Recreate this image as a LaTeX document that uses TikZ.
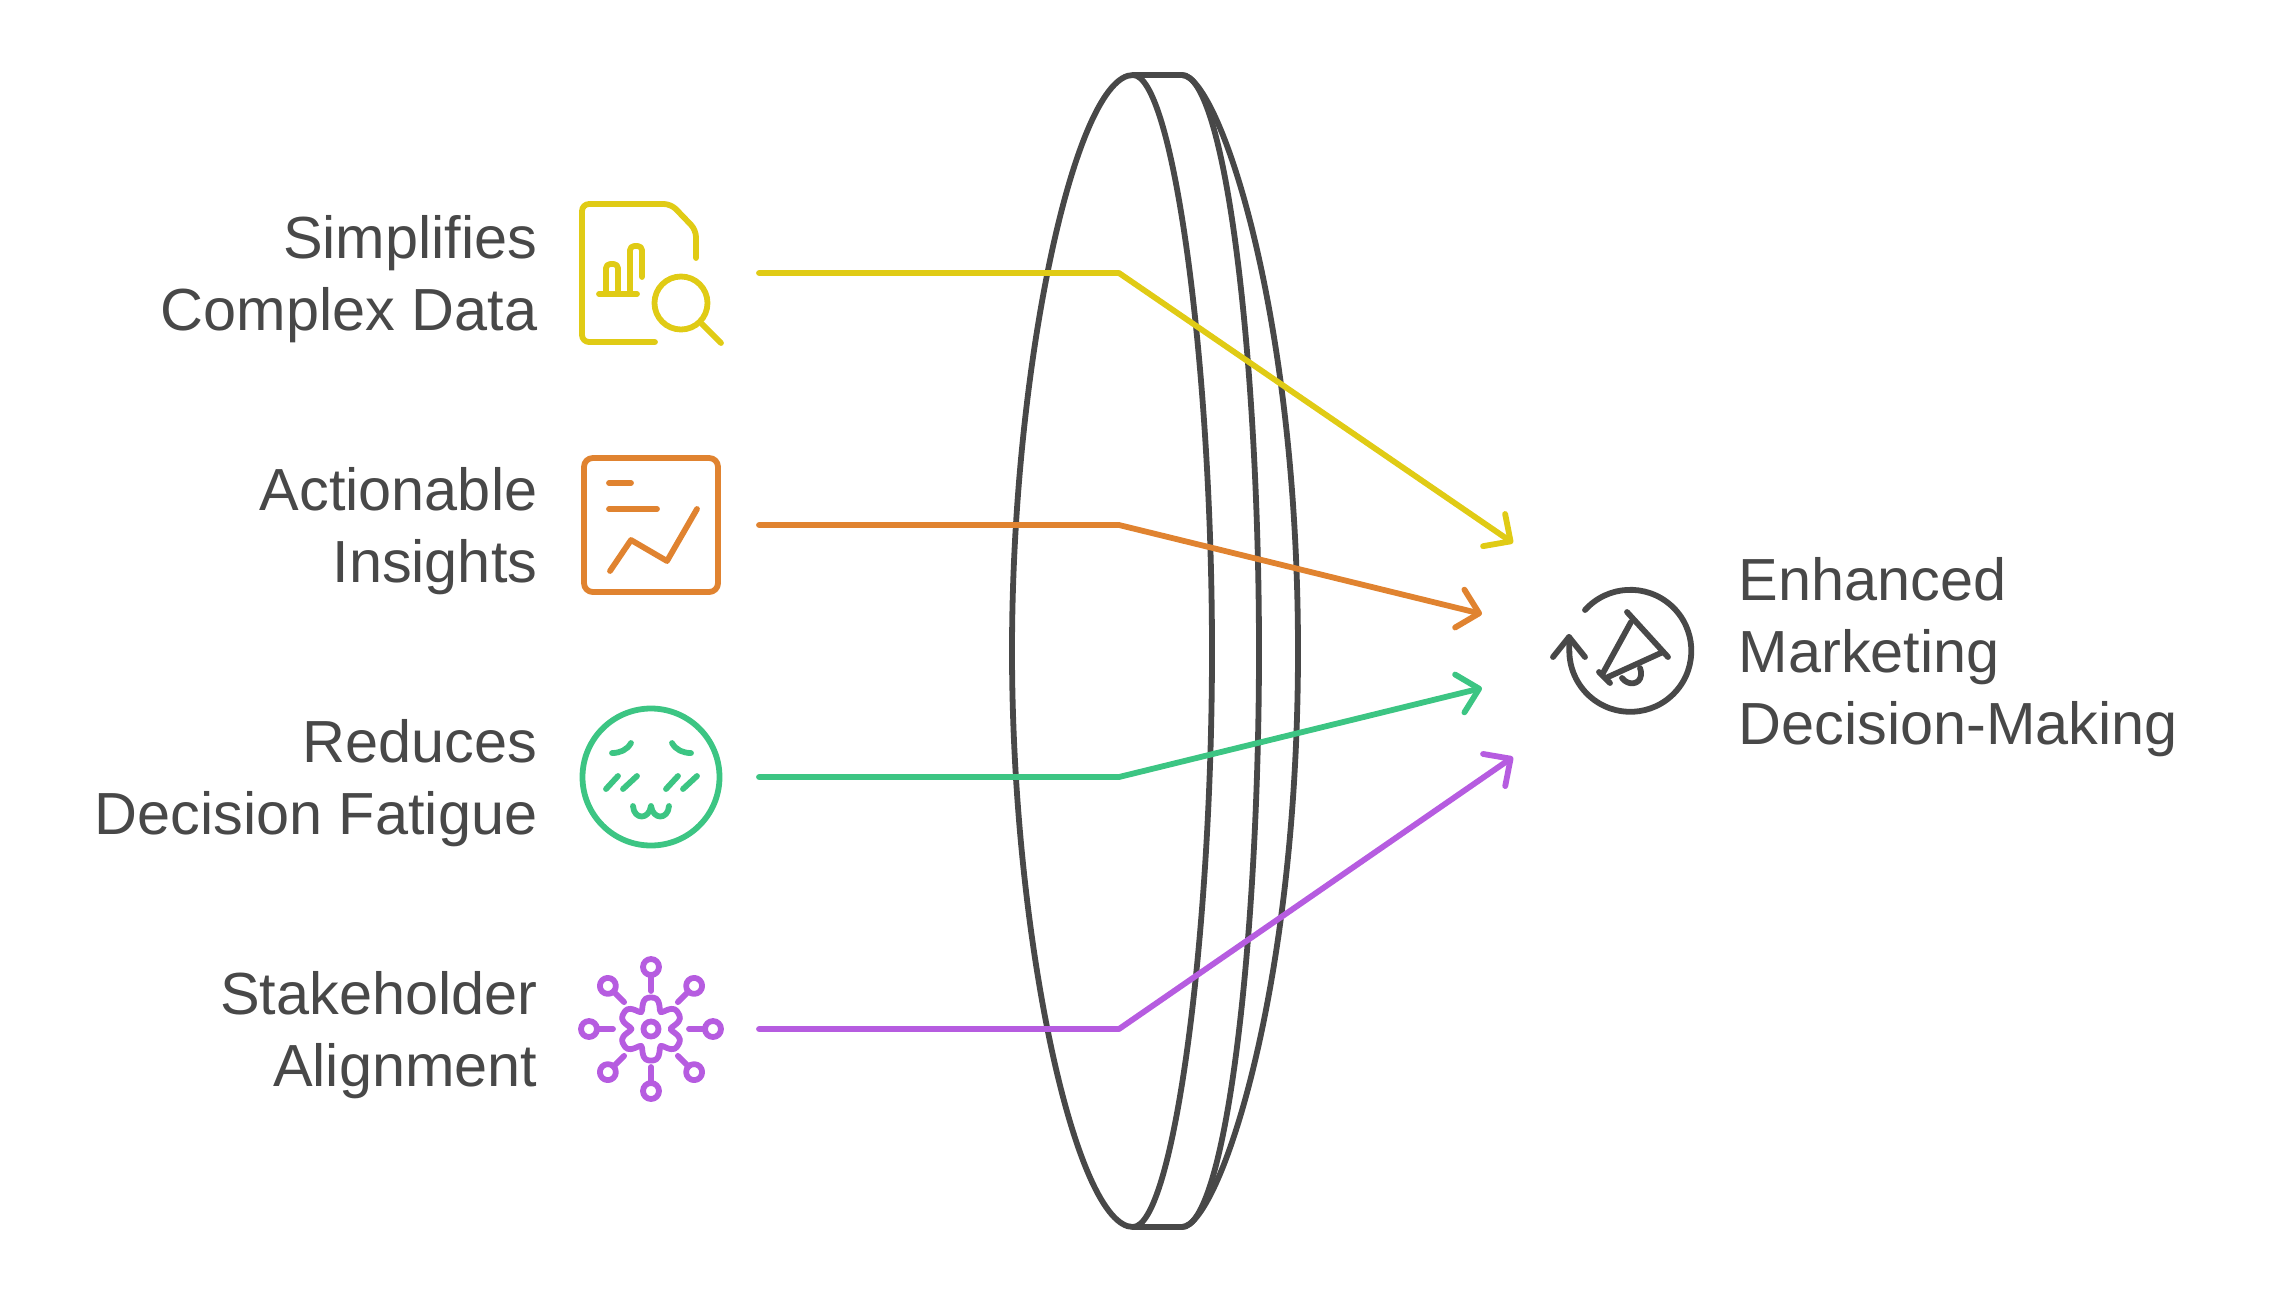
\documentclass[tikz,border=0pt]{standalone}
\usepackage{fontspec}
\setmainfont{Liberation Sans}
\usetikzlibrary{arrows.meta}
\definecolor{inkgray}{HTML}{484848}
\definecolor{dataYellow}{HTML}{E0CB15}
\definecolor{insightOrange}{HTML}{E08330}
\definecolor{fatigueGreen}{HTML}{3CC583}
\definecolor{alignPurple}{HTML}{B65CE0}
\tikzset{
  label text/.style={text=inkgray, inner sep=0pt, font=\fontsize{16.9}{20.5}\selectfont},
  lens line/.style={draw=inkgray, line width=0.58mm},
  icon line/.style={line width=0.58mm, line cap=round, line join=round},
  flow/.style={line width=0.58mm, line cap=round, line join=round,
    arrows={-Straight Barb[round, length=0.2cm, width=0.39cm]}},
}
\begin{document}
\begin{tikzpicture}[x=0.01cm, y=-0.01cm]
\useasboundingbox (0, 0) rectangle (2274, 1302);

% lens
\draw[lens line] (1133, 75) .. controls (1076, 75) and (1012, 363) .. (1012, 651)
  .. controls (1012, 939) and (1076, 1227) .. (1133, 1227) -- (1182, 1227)
  .. controls (1217, 1227) and (1298, 997) .. (1298, 651)
  .. controls (1298, 305) and (1217, 75) .. (1182, 75) -- cycle;
\draw[lens line] (1133, 75) .. controls (1173, 75) and (1212, 363) .. (1212, 651)
  .. controls (1212, 939) and (1173, 1227) .. (1133, 1227);
\draw[lens line] (1182, 75) .. controls (1226, 75) and (1259, 363) .. (1259, 651)
  .. controls (1259, 939) and (1226, 1227) .. (1182, 1227);

% labels
\node[label text, anchor=east, align=right] (simplifies) at (538, 279) {Simplifies\\Complex Data};
\node[label text, anchor=east, align=right] (actionable) at (538, 531) {Actionable\\Insights};
\node[label text, anchor=east, align=right] (fatigue) at (538, 783) {Reduces\\Decision Fatigue};
\node[label text, anchor=east, align=right] (alignment) at (538, 1035) {Stakeholder\\Alignment};
\node[label text, anchor=west, align=left] (enhanced) at (1738, 657) {Enhanced\\Marketing\\Decision-Making};

% connector ends
\coordinate (data_start) at (759, 273);
\coordinate (data_bend) at (1119, 273);
\coordinate (data_tip) at (1513, 543);
\coordinate (insight_start) at (759, 525);
\coordinate (insight_bend) at (1119, 525);
\coordinate (insight_tip) at (1482, 614);
\coordinate (fatigue_start) at (759, 777);
\coordinate (fatigue_bend) at (1119, 777);
\coordinate (fatigue_tip) at (1482, 688);
\coordinate (align_start) at (759, 1029);
\coordinate (align_bend) at (1119, 1029);
\coordinate (align_tip) at (1513, 757);
\draw[flow, draw=dataYellow] (data_start) -- (data_bend) -- (data_tip);
\draw[flow, draw=insightOrange] (insight_start) -- (insight_bend) -- (insight_tip);
\draw[flow, draw=fatigueGreen] (fatigue_start) -- (fatigue_bend) -- (fatigue_tip);
\draw[flow, draw=alignPurple] (align_start) -- (align_bend) -- (align_tip);

% yellow icon
\begin{scope}[icon line, draw=dataYellow]
\draw[rounded corners=2pt] (655, 342) -- (582, 342) -- (582, 204) -- (671, 204) -- (696, 230) -- (696, 258);
\draw (599, 294) -- (637, 294);
\draw[rounded corners=1.2pt] (606, 294) -- (606, 264) -- (618, 264) -- (618, 294);
\draw[rounded corners=1.2pt] (630, 294) -- (630, 246) -- (642, 246) -- (642, 277);
\draw (681, 303) circle (26.5);
\draw (702, 324) -- (721, 343);
\end{scope}

% orange icon
\begin{scope}[icon line, draw=insightOrange]
\draw[rounded corners=2.5pt] (584, 458) rectangle (718, 592);
\draw (609, 483) -- (631, 483);
\draw (609, 509) -- (657, 509);
\draw (610, 571) -- (631, 540) -- (667, 561) -- (697, 509);
\end{scope}

% green icon
\begin{scope}[icon line, draw=fatigueGreen]
\draw (651, 777) circle (68.5);
\draw (612, 753) .. controls (620, 753) and (627, 750) .. (631, 743);
\draw (691, 753) .. controls (683, 753) and (676, 750) .. (672, 743);
\draw (606, 789) -- (618, 776);
\draw (623, 789) -- (637, 776);
\draw (666, 789) -- (678, 776);
\draw (683, 789) -- (697, 776);
\draw (633, 806) .. controls (634, 820) and (649, 820) .. (651, 806)
  .. controls (653, 820) and (668, 820) .. (669, 806);
\end{scope}

% purple icon
\begin{scope}[icon line, draw=alignPurple, shift={(651, 1029)}]
\draw (0, 0) circle (7.5);
\draw plot[domain=0:360, samples=73, smooth] (\x:{27 + 6 * cos(6 * \x - 180) - 1.5 * cos(12 * \x)}) -- cycle;
\foreach \a in {0, 90, 180, 270} {
  \draw (\a:38) -- (\a:54);
  \draw (\a:62) circle (8);
}
\foreach \a in {45, 135, 225, 315} {
  \draw (\a:38) -- (\a:53);
  \draw (\a:61) circle (8);
}
\end{scope}

% megaphone icon
\begin{scope}[icon line, draw=inkgray]
\draw (1585, 610) arc[start angle=222, end angle=540, radius=61] -- (1569, 637);
\draw (1553, 657) -- (1569, 637) -- (1585, 657);
\draw (1627, 612) -- (1668, 657);
\draw (1599, 672) -- (1610, 683);
\draw (1631, 622) -- (1603, 673);
\draw (1663, 652) -- (1608, 677);
\draw (1622, 678) .. controls (1628, 686) and (1640, 685) .. (1641, 675) .. controls (1641, 672) and (1641, 670) .. (1640, 668);
\end{scope}
\end{tikzpicture}
\end{document}
